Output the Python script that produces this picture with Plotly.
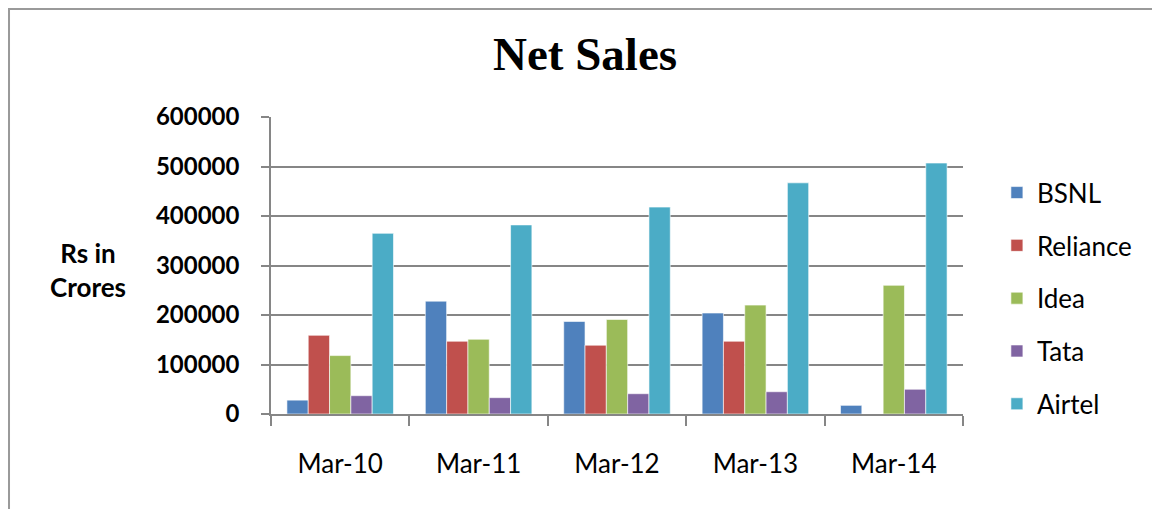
import plotly.graph_objects as go

categories = ["Mar-10", "Mar-11", "Mar-12", "Mar-13", "Mar-14"]
bsnl = [28000, 228000, 187000, 204000, 17500]
reliance = [159000, 147000, 139000, 147000, None]
idea = [118000, 151000, 191000, 220000, 260000]
tata = [37000, 33000, 41000, 45000, 50000]
airtel = [365000, 382000, 418000, 467000, 507000]

series = [
    ("BSNL", bsnl, "#4F81BD"),
    ("Reliance", reliance, "#C0504D"),
    ("Idea", idea, "#9BBB59"),
    ("Tata", tata, "#8064A2"),
    ("Airtel", airtel, "#4BACC6"),
]

fig = go.Figure()
for name, vals, color in series:
    fig.add_trace(go.Bar(
        x=categories, y=vals, name=name, legendgroup=name,
        marker=dict(color=color, line=dict(color="rgba(255,255,255,0.6)", width=1)),
    ))

fig.update_layout(
    width=1160, height=509,
    margin=dict(l=263, r=205, t=109, b=103),
    paper_bgcolor="white", plot_bgcolor="white",
    barmode="group", bargap=0.23, bargroupgap=0,
    font=dict(family="Lato, Calibri, sans-serif", color="#000000"),
    title=dict(text="<b>Net Sales</b>", x=0.4538, xanchor="center", y=0.9096, yanchor="middle",
               xref="paper",
               font=dict(family="Liberation Serif, Times New Roman, serif", size=47, color="#000")),
    legend=dict(x=1.049, xanchor="left", y=0.39, yanchor="middle",
                font=dict(size=26, family="Lato, Calibri, sans-serif"),
                tracegroupgap=16, traceorder="grouped", bgcolor="rgba(0,0,0,0)"),
    showlegend=True,
)
fig.update_xaxes(
    showgrid=False, showline=True, linecolor="#868686", linewidth=1.5,
    ticks="outside", ticklen=10, tickcolor="#868686", tickwidth=1.5,
    tickson="boundaries", ticklabelstandoff=26,
    tickfont=dict(size=26, family="Lato, Calibri, sans-serif"),
)
fig.update_yaxes(
    range=[0, 600000], dtick=100000, tickformat="d",
    showgrid=True, gridcolor="#868686", gridwidth=1.5,
    showline=True, linecolor="#868686", linewidth=1.5,
    ticks="outside", ticklen=8, tickcolor="#868686", tickwidth=1.5,
    tickfont=dict(size=24, family="Lato, Calibri, sans-serif", weight="bold"),
    ticklabelstandoff=17, zeroline=False,
)
fig.add_annotation(
    text="<b>Rs in<br>Crores</b>", xref="paper", yref="paper",
    x=-0.2645, y=0.485, xanchor="center", yanchor="middle", showarrow=False,
    font=dict(size=26, family="Lato, Calibri, sans-serif"), align="center",
)
fig.add_shape(type="rect", xref="paper", yref="paper",
              x0=-0.3786, x1=1.4, y0=-0.5, y1=1.3636,
              line=dict(color="#9a9a9a", width=2), layer="below")

fig.write_html("out.html")
